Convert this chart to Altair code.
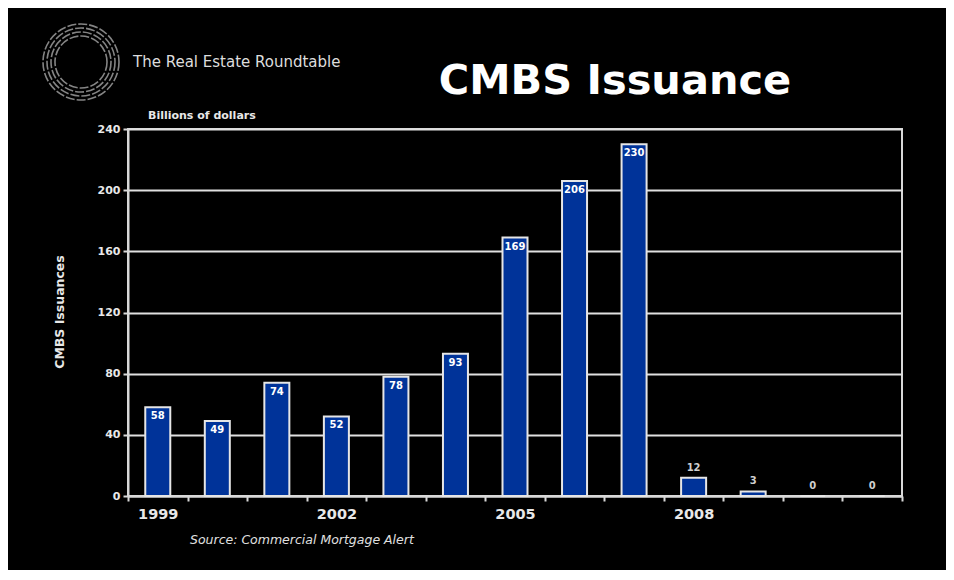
import altair as alt
import pandas as pd

years = ["1999", "2000", "2001", "2002", "2003", "2004", "2005",
         "2006", "2007", "2008", "2009", "2010", "2011"]
issuance = [58, 49, 74, 52, 78, 93, 169, 206, 230, 12, 3, 0, 0]
y_ticks = [0, 40, 80, 120, 160, 200, 240]
shown_years = ["1999", "2002", "2005", "2008"]

df = pd.DataFrame({"year": years, "value": issuance})

FONT = "DejaVu Sans"
W, H = 774, 367

x_enc = alt.X("year:N", sort=years,
              scale=alt.Scale(paddingInner=0, paddingOuter=0),
              axis=alt.Axis(title=None, labelAngle=0, tickBand="extent",
                            labelExpr="indexof(" + str(shown_years) + ", datum.label) >= 0 ? datum.label : ''",
                            labelFont=FONT, labelFontWeight="bold", labelFontSize=14.5,
                            labelColor="#e8e8e8", labelPadding=6, tickSize=5,
                            tickColor="#d8d8d8", tickWidth=2, domainColor="#d8d8d8",
                            domainWidth=2))
y_enc = alt.Y("value:Q", scale=alt.Scale(domain=[0, 240], nice=False),
              axis=alt.Axis(title=None, values=y_ticks, grid=True,
                            gridColor="#e0e0e0", gridWidth=2,
                            labelFont=FONT, labelFontWeight="bold", labelFontSize=11,
                            labelColor="#e8e8e8", labelPadding=3, tickSize=5,
                            tickColor="#d8d8d8", tickWidth=2, domainColor="#d8d8d8",
                            domainWidth=2))

base = alt.Chart(df)

bars = base.mark_bar(color="#003399", stroke="#e6e6e6", strokeWidth=2,
                     width=alt.RelativeBandSize(0.42)).encode(x=x_enc, y=y_enc)

inside = base.transform_filter("datum.value >= 20").mark_text(
    font=FONT, fontWeight="bold", fontSize=10, color="white", dy=9,
    baseline="middle").encode(
    x=alt.X("year:N", sort=years), y="value:Q", text="value:Q")

above = base.transform_filter("datum.value < 20").mark_text(
    font=FONT, fontWeight="bold", fontSize=10, color="#cfcfcf", dy=-10,
    baseline="middle").encode(
    x=alt.X("year:N", sort=years), y="value:Q", text="value:Q")

def label(txt, x, y, size, weight="normal", style="normal", color="white",
          align="left", angle=0):
    return alt.Chart(pd.DataFrame({"t": [txt]})).mark_text(
        font=FONT, fontSize=size, fontWeight=weight, fontStyle=style,
        color=color, align=align, baseline="middle", angle=angle).encode(
        x=alt.value(x), y=alt.value(y), text="t:N")

title = label("CMBS Issuance", 487, -47, 41.5, weight="bold", align="center")
org = label("The Real Estate Roundtable", 5, -67, 15, color="#dddddd")
unit = label("Billions of dollars", 20, -13, 11, weight="bold", color="#e8e8e8")
ytitle = label("CMBS Issuances", -68, 183, 12.5, weight="bold", color="#e8e8e8",
               align="center", angle=270)
source = label("Source: Commercial Mortgage Alert", 62, 411, 12.5, style="italic",
               color="#e0e0e0")

logo_df = pd.DataFrame({"d": [76, 68, 60, 52]})
logo = alt.Chart(logo_df).mark_point(shape="circle", filled=False,
                                     stroke="#bdbdbd", strokeWidth=1.6,
                                     strokeDash=[9, 2]).encode(
    x=alt.value(-47), y=alt.value(-67),
    size=alt.Size("sq:Q", scale=None, legend=None)).transform_calculate(
    sq="datum.d * datum.d")

chart = alt.layer(bars, inside, above, title, org, unit, ytitle, source, logo).properties(
    width=W, height=H,
    background="black",
    autosize=alt.AutoSizeParams(type="none"),
    padding={"left": 120, "top": 121, "right": 44, "bottom": 74},
).configure_view(stroke="#d8d8d8", strokeWidth=2)

chart.save("out.html", embed_options={"renderer": "svg", "actions": False})
